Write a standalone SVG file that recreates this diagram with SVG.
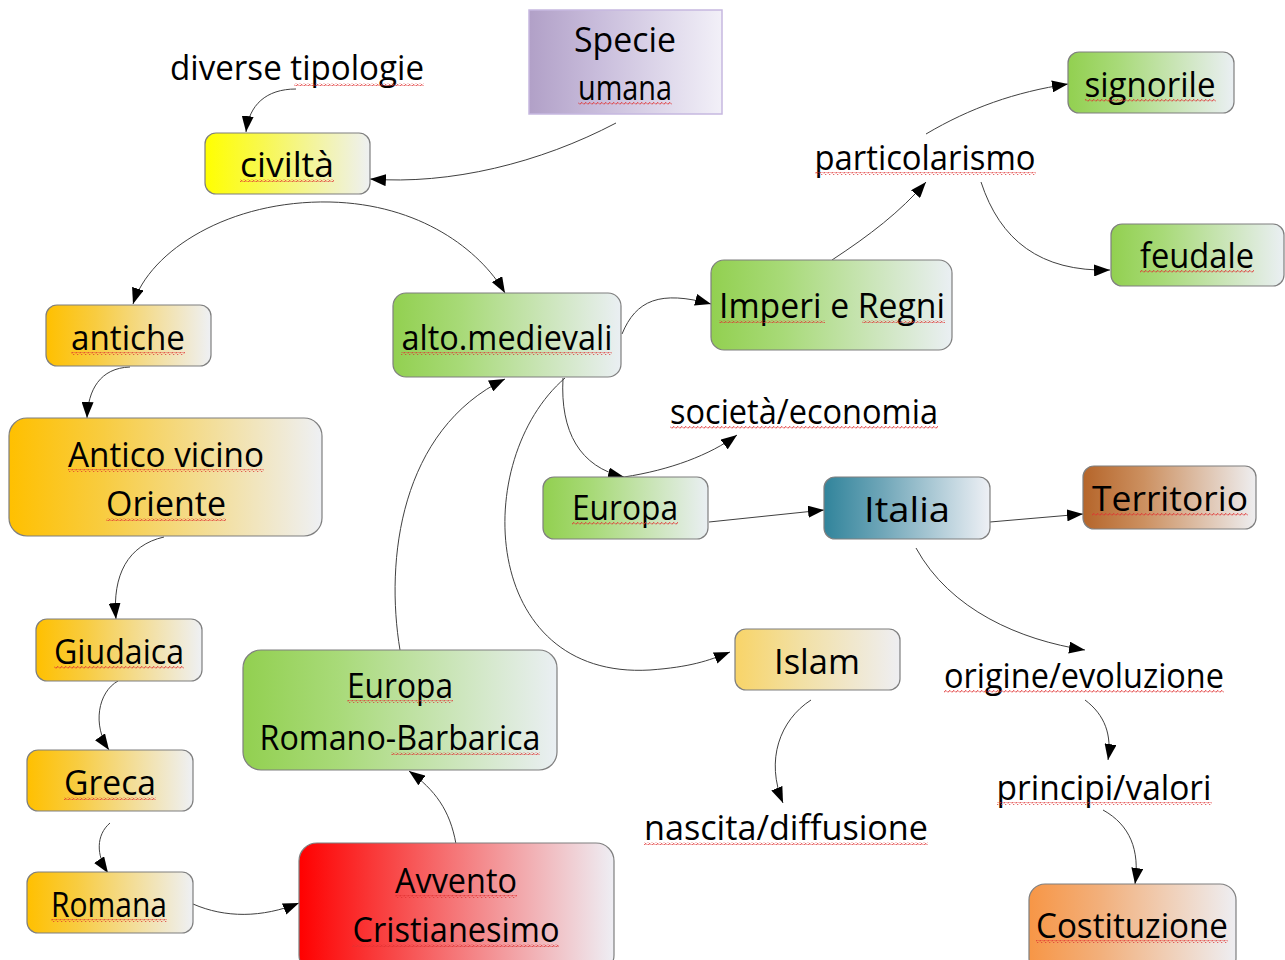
<svg xmlns="http://www.w3.org/2000/svg" width="1285" height="960" viewBox="0 0 1285 960">
<style>
.n{stroke:#7f7f7f;stroke-width:1.2}
.t{font-family:"Open Sans","DejaVu Sans",sans-serif;font-size:34px;fill:#000;text-anchor:middle}
.c{fill:none;stroke:#404040;stroke-width:1;marker-end:url(#ah)}
.u{fill:url(#wave)}
</style>
<defs>
<marker id="ah" viewBox="0 0 16 12" refX="16" refY="6" markerWidth="16" markerHeight="12" markerUnits="userSpaceOnUse" orient="auto"><path d="M0,0 L16,6 L0,12 Z" fill="#000"/></marker>
<pattern id="wave" width="4" height="3" patternUnits="userSpaceOnUse"><path d="M0,2.5 L1,1 L2,0.5 L3,1.5 L4,2.5" fill="none" stroke="#e03030" stroke-width="0.9"/></pattern>
<linearGradient id="gY"><stop offset="0" stop-color="#ffff00"/><stop offset="0.35" stop-color="#f8f850"/><stop offset="1" stop-color="#eef0f2"/></linearGradient>
<linearGradient id="gO"><stop offset="0" stop-color="#ffc000"/><stop offset="0.3" stop-color="#f8cc40"/><stop offset="1" stop-color="#eef0f4"/></linearGradient>
<linearGradient id="gG"><stop offset="0" stop-color="#92d050"/><stop offset="0.3" stop-color="#a8da78"/><stop offset="1" stop-color="#eaeff3"/></linearGradient>
<linearGradient id="gP"><stop offset="0" stop-color="#b1a0c7"/><stop offset="0.35" stop-color="#c8bcdb"/><stop offset="1" stop-color="#f2f0f8"/></linearGradient>
<linearGradient id="gR"><stop offset="0" stop-color="#ff0000"/><stop offset="0.3" stop-color="#f84848"/><stop offset="1" stop-color="#eeeef4"/></linearGradient>
<linearGradient id="gT"><stop offset="0" stop-color="#31849b"/><stop offset="0.35" stop-color="#6fa6b8"/><stop offset="1" stop-color="#eef0f5"/></linearGradient>
<linearGradient id="gB"><stop offset="0" stop-color="#b5652a"/><stop offset="0.35" stop-color="#cc9060"/><stop offset="1" stop-color="#eeeef0"/></linearGradient>
<linearGradient id="gL"><stop offset="0" stop-color="#f8d468"/><stop offset="0.4" stop-color="#f2e0a4"/><stop offset="1" stop-color="#eeeef2"/></linearGradient>
<linearGradient id="gC"><stop offset="0" stop-color="#f79646"/><stop offset="0.35" stop-color="#f2b07c"/><stop offset="1" stop-color="#eeeef2"/></linearGradient>
</defs>
<rect width="1285" height="960" fill="#fff"/>

<g id="connectors">
<path class="c" d="M296,89 C266,89 249,105 246,132"/>
<path class="c" d="M616,123 C540,163 450,185 370,179"/>
<path class="c" d="M330,202 C230,200 150,250 133,304"/>
<path class="c" d="M330,202 C420,204 480,250 505,293"/>
<path class="c" d="M622,334 C636,300 660,290 711,304"/>
<path class="c" d="M832,260 C870,235 900,212 926,182"/>
<path class="c" d="M926,134 C970,108 1015,92 1068,84"/>
<path class="c" d="M981,182 C1000,240 1040,272 1110,270"/>
<path class="c" d="M130,367 C100,368 88,390 87,418"/>
<path class="c" d="M164,537 C128,545 112,575 116,619"/>
<path class="c" d="M118,681 C98,692 92,725 109,750"/>
<path class="c" d="M110,823 C96,835 96,855 108,873"/>
<path class="c" d="M193,904 C225,918 262,918 299,903"/>
<path class="c" d="M456,844 C450,810 435,790 409,771"/>
<path class="c" d="M400,650 C385,560 400,430 505,379"/>
<path class="c" d="M563,378 C560,432 580,467 624,477"/>
<path class="c" d="M624,477 C670,470 710,455 737,435"/>
<path class="c" d="M565,378 C470,460 480,680 650,670 C690,667 708,661 730,652"/>
<path class="c" d="M709,522 L824,510"/>
<path class="c" d="M990,522 L1083,514"/>
<path class="c" d="M916,548 C950,610 1020,640 1085,650"/>
<path class="c" d="M1085,700 C1105,715 1112,735 1108,760"/>
<path class="c" d="M811,700 C780,720 765,760 783,803"/>
<path class="c" d="M1103,810 C1130,825 1140,850 1135,884"/>
</g>

<g id="specie"><rect x="529" y="10" width="193" height="104" fill="url(#gP)" stroke="#c6b8e0" stroke-width="1.5"/>
<text class="t" x="625" y="52" textLength="102" lengthAdjust="spacingAndGlyphs">Specie</text><text class="t" x="625" y="100" textLength="94" lengthAdjust="spacingAndGlyphs">umana</text>
<rect class="u" x="578" y="102" width="94" height="3"/></g>

<g id="diverse"><text class="t" x="297" y="80" textLength="254" lengthAdjust="spacingAndGlyphs">diverse tipologie</text><rect class="u" x="294" y="83" width="130" height="3"/></g>

<g id="civilta"><rect class="n" x="205" y="133" width="165" height="61" rx="11" fill="url(#gY)"/>
<text class="t" x="287" y="177" textLength="94" lengthAdjust="spacingAndGlyphs">civiltà</text><rect class="u" x="240" y="179" width="94" height="3"/></g>

<g id="antiche"><rect class="n" x="46" y="305" width="165" height="61" rx="11" fill="url(#gO)"/>
<text class="t" x="128" y="350" textLength="114" lengthAdjust="spacingAndGlyphs">antiche</text><rect class="u" x="71" y="352" width="114" height="3"/></g>

<g id="altomedievali"><rect class="n" x="393" y="293" width="228" height="84" rx="13" fill="url(#gG)"/>
<text class="t" x="507" y="350" textLength="211" lengthAdjust="spacingAndGlyphs">alto.medievali</text><rect class="u" x="401" y="352" width="211" height="3"/></g>

<g id="imperi"><rect class="n" x="711" y="260" width="241" height="90" rx="13" fill="url(#gG)"/>
<text class="t" x="832" y="318" textLength="226" lengthAdjust="spacingAndGlyphs">Imperi e Regni</text><rect class="u" x="719" y="320" width="106" height="3"/><rect class="u" x="862" y="320" width="83" height="3"/></g>

<g id="particolarismo"><text class="t" x="925" y="170" textLength="221" lengthAdjust="spacingAndGlyphs">particolarismo</text><rect class="u" x="815" y="172" width="221" height="3"/></g>

<g id="signorile"><rect class="n" x="1068" y="52" width="166" height="61" rx="11" fill="url(#gG)"/>
<text class="t" x="1150" y="97" textLength="131" lengthAdjust="spacingAndGlyphs">signorile</text><rect class="u" x="1085" y="99" width="131" height="3"/></g>

<g id="feudale"><rect class="n" x="1111" y="224" width="173" height="62" rx="11" fill="url(#gG)"/>
<text class="t" x="1197" y="268" textLength="114" lengthAdjust="spacingAndGlyphs">feudale</text><rect class="u" x="1140" y="270" width="114" height="3"/></g>

<g id="antico"><rect class="n" x="9" y="418" width="313" height="118" rx="18" fill="url(#gO)"/>
<text class="t" x="166" y="467" textLength="196" lengthAdjust="spacingAndGlyphs">Antico vicino</text><text class="t" x="166" y="516" textLength="120" lengthAdjust="spacingAndGlyphs">Oriente</text>
<rect class="u" x="68" y="469" width="196" height="3"/><rect class="u" x="106" y="518" width="120" height="3"/></g>

<g id="societa"><text class="t" x="804" y="424" textLength="268" lengthAdjust="spacingAndGlyphs">società/economia</text><rect class="u" x="670" y="426" width="268" height="3"/></g>

<g id="europa"><rect class="n" x="543" y="477" width="165" height="62" rx="11" fill="url(#gG)"/>
<text class="t" x="625" y="520" textLength="106" lengthAdjust="spacingAndGlyphs">Europa</text><rect class="u" x="572" y="522" width="106" height="3"/></g>

<g id="italia"><rect class="n" x="824" y="477" width="166" height="62" rx="11" fill="url(#gT)"/>
<text class="t" x="907" y="522" textLength="86" lengthAdjust="spacingAndGlyphs">Italia</text></g>

<g id="territorio"><rect class="n" x="1083" y="466" width="173" height="63" rx="11" fill="url(#gB)"/>
<text class="t" x="1170" y="511" textLength="156" lengthAdjust="spacingAndGlyphs">Territorio</text><rect class="u" x="1092" y="513" width="156" height="3"/></g>

<g id="giudaica"><rect class="n" x="36" y="619" width="166" height="62" rx="11" fill="url(#gO)"/>
<text class="t" x="119" y="664" textLength="130" lengthAdjust="spacingAndGlyphs">Giudaica</text><rect class="u" x="54" y="666" width="130" height="3"/></g>

<g id="europarb"><rect class="n" x="243" y="650" width="314" height="120" rx="18" fill="url(#gG)"/>
<text class="t" x="400" y="698" textLength="106" lengthAdjust="spacingAndGlyphs">Europa</text><text class="t" x="400" y="750" textLength="281" lengthAdjust="spacingAndGlyphs">Romano-Barbarica</text>
<rect class="u" x="347" y="700" width="106" height="3"/><rect class="u" x="391" y="752" width="149" height="3"/></g>

<g id="islam"><rect class="n" x="735" y="629" width="165" height="61" rx="11" fill="url(#gL)"/>
<text class="t" x="817" y="674" textLength="86" lengthAdjust="spacingAndGlyphs">Islam</text></g>

<g id="origine"><text class="t" x="1084" y="688" textLength="280" lengthAdjust="spacingAndGlyphs">origine/evoluzione</text><rect class="u" x="944" y="690" width="280" height="3"/></g>

<g id="greca"><rect class="n" x="27" y="750" width="166" height="61" rx="11" fill="url(#gO)"/>
<text class="t" x="110" y="795" textLength="92" lengthAdjust="spacingAndGlyphs">Greca</text><rect class="u" x="64" y="797" width="92" height="3"/></g>

<g id="principi"><text class="t" x="1104" y="800" textLength="215" lengthAdjust="spacingAndGlyphs">principi/valori</text><rect class="u" x="997" y="802" width="215" height="3"/></g>

<g id="nascita"><text class="t" x="786" y="840" textLength="284" lengthAdjust="spacingAndGlyphs">nascita/diffusione</text><rect class="u" x="644" y="842" width="284" height="3"/></g>

<g id="romana"><rect class="n" x="27" y="872" width="166" height="61" rx="11" fill="url(#gO)"/>
<text class="t" x="109" y="917" textLength="116" lengthAdjust="spacingAndGlyphs">Romana</text><rect class="u" x="51" y="919" width="116" height="3"/></g>

<g id="avvento"><rect class="n" x="299" y="843" width="315" height="130" rx="18" fill="url(#gR)"/>
<text class="t" x="456" y="893" textLength="122" lengthAdjust="spacingAndGlyphs">Avvento</text><text class="t" x="456" y="942" textLength="207" lengthAdjust="spacingAndGlyphs">Cristianesimo</text>
<rect class="u" x="395" y="895" width="122" height="3"/><rect class="u" x="352" y="944" width="207" height="3"/></g>

<g id="costituzione"><rect class="n" x="1029" y="884" width="207" height="90" rx="16" fill="url(#gC)"/>
<text class="t" x="1132" y="938" textLength="192" lengthAdjust="spacingAndGlyphs">Costituzione</text><rect class="u" x="1036" y="940" width="192" height="3"/></g>
</svg>
